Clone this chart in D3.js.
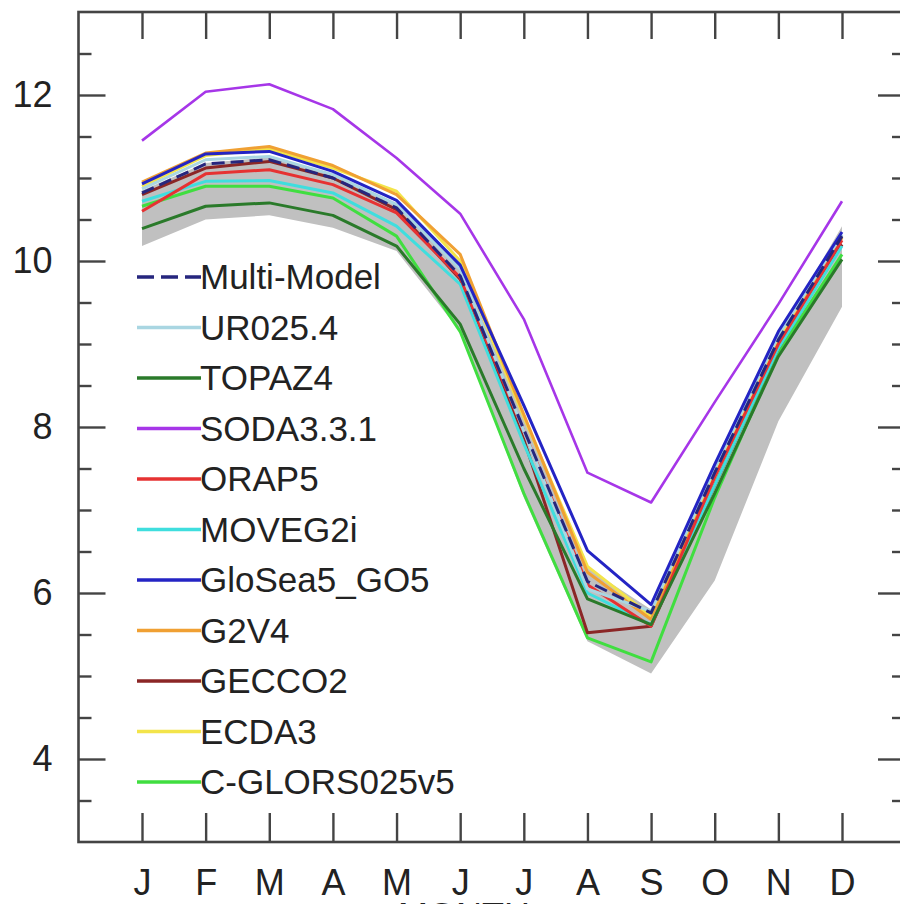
<!DOCTYPE html>
<html>
<head>
<meta charset="utf-8">
<script src="https://cdn.jsdelivr.net/npm/d3@7/dist/d3.min.js"></script>
<style>
  html, body { margin: 0; padding: 0; background: #fff; }
  svg { display: block; }
  text { font-family: "Liberation Sans", Arial, Helvetica, sans-serif; fill: #222; }
</style>
</head>
<body>
<svg id="chart" width="900" height="904"></svg>
<script>
// Month labels along the x axis
const months = ["J", "F", "M", "A", "M", "J", "J", "A", "S", "O", "N", "D"];

// Y axis tick values
const yMajorTicks = [4, 6, 8, 10, 12];

// Monthly climatology per reanalysis (10^6 km^2)
const multiModel  = [10.82, 11.17, 11.22, 11.00, 10.64, 9.82, 7.97, 6.14, 5.76, 7.45, 9.05, 10.30];
const ur025       = [10.87, 11.22, 11.26, 11.04, 10.68, 9.90, 7.95, 6.05, 5.78, 7.50, 9.10, 10.32];
const topaz4      = [10.39, 10.66, 10.70, 10.55, 10.18, 9.24, 7.50, 5.93, 5.62, 7.20, 8.85, 10.02];
const soda331     = [11.45, 12.04, 12.13, 11.83, 11.24, 10.57, 9.30, 7.45, 7.09, 8.30, 9.48, 10.72];
const orap5       = [10.60, 11.05, 11.10, 10.92, 10.58, 9.80, 7.95, 6.10, 5.60, 7.40, 9.00, 10.25];
const moveg2i     = [10.72, 10.96, 10.97, 10.82, 10.42, 9.72, 7.80, 6.00, 5.62, 7.30, 8.95, 10.18];
const glosea5     = [10.93, 11.29, 11.32, 11.08, 10.73, 9.95, 8.26, 6.51, 5.86, 7.55, 9.15, 10.35];
const g2v4        = [10.95, 11.30, 11.38, 11.15, 10.80, 10.08, 8.15, 6.25, 5.68, 7.40, 9.00, 10.28];
const gecco2      = [10.80, 11.12, 11.20, 11.00, 10.62, 9.78, 7.85, 5.52, 5.60, 7.30, 8.95, 10.20];
const ecda3       = [10.90, 11.27, 11.35, 11.12, 10.84, 10.00, 8.12, 6.32, 5.72, 7.45, 9.05, 10.30];
const cglors025   = [10.66, 10.90, 10.90, 10.76, 10.30, 9.15, 7.20, 5.46, 5.17, 7.15, 8.90, 10.08];

// Observed range (shaded envelope)
const obsLow  = [10.18, 10.50, 10.55, 10.40, 10.12, 9.15, 7.15, 5.42, 5.03, 6.15, 8.07, 9.45];
const obsHigh = [10.85, 11.18, 11.25, 11.05, 10.70, 9.95, 8.10, 6.30, 5.80, 7.50, 9.10, 10.42];

// Series in legend order
const seriesNames  = ["Multi-Model", "UR025.4", "TOPAZ4", "SODA3.3.1", "ORAP5", "MOVEG2i",
                      "GloSea5_GO5", "G2V4", "GECCO2", "ECDA3", "C-GLORS025v5"];
const seriesValues = [multiModel, ur025, topaz4, soda331, orap5, moveg2i,
                      glosea5, g2v4, gecco2, ecda3, cglors025];
const seriesColors = ["#26267e", "#a9d6e2", "#2a7a2a", "#a636e8", "#e63232", "#3fdede",
                      "#2424c4", "#f0a033", "#8b2626", "#f3e44a", "#40de40"];

const svg = d3.select("#chart");

const frame = { left: 78.5, right: 905, top: 12, bottom: 842 };

const x = d3.scaleLinear().domain([0, 11]).range([142, 842]);
const y = d3.scaleLinear().domain([3, 13]).range([frame.bottom, frame.top]);

// Observed envelope
const area = d3.area()
  .x((d, i) => x(i))
  .y0((d, i) => y(obsLow[i]))
  .y1((d, i) => y(obsHigh[i]));
svg.append("path")
  .datum(months)
  .attr("d", area)
  .attr("fill", "#c0c0c0");

// Reanalysis lines (drawn so the multi-model mean ends up on top)
const line = d3.line().x((d, i) => x(i)).y(d => y(d));
const drawOrder = [10, 9, 8, 7, 5, 4, 3, 2, 1, 6, 0];
drawOrder.forEach(k => {
  svg.append("path")
    .datum(seriesValues[k])
    .attr("d", line)
    .attr("fill", "none")
    .attr("stroke", seriesColors[k])
    .attr("stroke-width", k === 3 ? 2.6 : 3)
    .attr("stroke-linejoin", "round")
    .attr("stroke-dasharray", k === 0 ? "13,6" : null);
});

// Axes: ticks point inward on all four sides
const axisColor = "#444";
function styleAxis(g) {
  g.select(".domain").remove();
  g.selectAll(".tick line").attr("stroke", axisColor).attr("stroke-width", 2.4);
  g.selectAll(".tick text").attr("font-size", 36).attr("fill", "#222")
    .attr("font-family", "'Liberation Sans', Arial, sans-serif");
}

const yMinorTicks = d3.range(3, 13.01, 0.5).filter(v => !yMajorTicks.includes(v) && v > 3 && v < 13);

svg.append("g").attr("transform", `translate(${frame.left},0)`)
  .call(d3.axisLeft(y).tickValues(yMajorTicks).tickSize(-27).tickPadding(26).tickFormat(d3.format("d")))
  .call(styleAxis);
svg.append("g").attr("transform", `translate(${frame.left},0)`)
  .call(d3.axisLeft(y).tickValues(yMinorTicks).tickSize(-13).tickFormat(""))
  .call(styleAxis);
svg.append("g").attr("transform", `translate(${frame.right},0)`)
  .call(d3.axisRight(y).tickValues(yMajorTicks).tickSize(-27).tickFormat(""))
  .call(styleAxis);
svg.append("g").attr("transform", `translate(${frame.right},0)`)
  .call(d3.axisRight(y).tickValues(yMinorTicks).tickSize(-13).tickFormat(""))
  .call(styleAxis);

svg.append("g").attr("transform", `translate(0,${frame.bottom})`)
  .call(d3.axisBottom(x).tickValues(d3.range(12)).tickSize(-29).tickPadding(27)
    .tickFormat(i => months[i]))
  .call(styleAxis);
svg.append("g").attr("transform", `translate(0,${frame.top})`)
  .call(d3.axisTop(x).tickValues(d3.range(12)).tickSize(-27).tickFormat(""))
  .call(styleAxis);

// Plot frame
svg.append("rect")
  .attr("x", frame.left).attr("y", frame.top)
  .attr("width", frame.right - frame.left).attr("height", frame.bottom - frame.top)
  .attr("fill", "none").attr("stroke", axisColor).attr("stroke-width", 2.6);

// X axis title (runs off the bottom edge)
svg.append("text")
  .attr("x", 398).attr("y", 929)
  .attr("font-size", 36)
  .text("MONTH");

// Legend
const legend = svg.append("g");
seriesNames.forEach((name, i) => {
  const cy = 277 + i * 50.5;
  legend.append("line")
    .attr("x1", 137).attr("x2", 201).attr("y1", cy).attr("y2", cy)
    .attr("stroke", seriesColors[i]).attr("stroke-width", 3.5)
    .attr("stroke-dasharray", i === 0 ? "17,7" : null);
  legend.append("text")
    .attr("x", 200).attr("y", cy).attr("dy", "0.35em")
    .attr("font-size", 35)
    .text(name);
});
</script>
</body>
</html>
